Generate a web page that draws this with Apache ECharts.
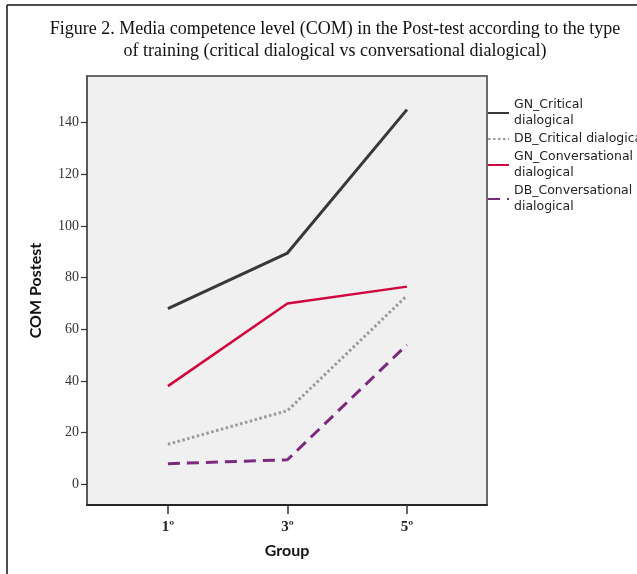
<!DOCTYPE html>
<html>
<head>
<meta charset="utf-8">
<script src="https://cdn.jsdelivr.net/npm/echarts@6/dist/echarts.min.js"></script>
<style>html,body{margin:0;padding:0;background:#fff}#c{width:637px;height:574px}</style>
</head>
<body>
<div id="c"></div>
<script>
const categories = ['1º', '3º', '5º'];
const yTicks = [0, 20, 40, 60, 80, 100, 120, 140];
const gnCritical = [68, 89.5, 145];
const dbCritical = [15.5, 28.5, 73];
const gnConversational = [38, 70, 76.5];
const dbConversational = [8, 9.5, 54];
const seriesNames = ['GN_Critical\ndialogical', 'DB_Critical dialogical', 'GN_Conversational\ndialogical', 'DB_Conversational\ndialogical'];

const toPairs = arr => arr.map((v, i) => [i + 1, v]);
const chart = echarts.init(document.getElementById('c'), null, {renderer: 'canvas'});
const option = {
  animation: false,
  backgroundColor: '#ffffff',
  title: {
    text: 'Figure 2. Media competence level (COM) in the Post-test according to the type\nof training (critical dialogical vs conversational dialogical)',
    left: 330, top: 13, textAlign: 'center',
    textStyle: {fontFamily: 'Liberation Serif', fontWeight: 'normal', fontSize: 18, lineHeight: 22, color: '#111'}
  },
  grid: {left: 87, right: 150, top: 76, bottom: 69, show: true, backgroundColor: '#f0f0f0', borderColor: '#6a6a6a', borderWidth: 2},
  legend: {
    orient: 'vertical', left: 487, top: 97, padding: 0, itemWidth: 21, itemHeight: 14, itemGap: 2,
    itemStyle: {opacity: 0},
    textStyle: {fontFamily: 'DejaVu Sans', fontSize: 12.5, lineHeight: 16, color: '#222'},
    data: seriesNames
  },
  xAxis: {
    type: 'value', min: 0.323, max: 3.67,
    name: 'Group', nameLocation: 'middle', nameGap: 38,
    nameTextStyle: {fontFamily: 'Lato', fontWeight: 'bold', fontSize: 16, color: '#111'},
    axisLine: {show: true, onZero: false, lineStyle: {color: '#111', width: 1.5}},
    axisTick: {show: true, length: 9, customValues: [1, 2, 3], lineStyle: {color: '#333', width: 1.5}},
    axisLabel: {customValues: [1, 2, 3], margin: 15, formatter: v => categories[Math.round(v) - 1] || '',
      fontFamily: 'Liberation Serif', fontWeight: 'bold', fontSize: 15, color: '#222'},
    splitLine: {show: false}
  },
  yAxis: {
    type: 'value', min: -8, max: 158,
    name: 'COM Postest', nameLocation: 'middle', nameGap: 43,
    nameTextStyle: {fontFamily: 'Lato', fontWeight: 'bold', fontSize: 16, color: '#111'},
    axisLine: {show: true, onZero: false, lineStyle: {color: '#555', width: 1.5}},
    axisTick: {show: true, length: 6, customValues: yTicks, lineStyle: {color: '#333', width: 1.2}},
    axisLabel: {customValues: yTicks, margin: 8, fontFamily: 'Liberation Serif', fontSize: 14, color: '#333'},
    splitLine: {show: false}
  },
  series: [
    {name: seriesNames[0], type: 'line', symbol: 'none', data: toPairs(gnCritical),
      lineStyle: {color: '#383838', width: 3}, itemStyle: {color: '#383838'}},
    {name: seriesNames[1], type: 'line', symbol: 'none', data: toPairs(dbCritical),
      lineStyle: {color: '#9a9a9a', width: 3, type: [2.5, 2.5]}, itemStyle: {color: '#9a9a9a'}},
    {name: seriesNames[2], type: 'line', symbol: 'none', data: toPairs(gnConversational),
      lineStyle: {color: '#d0063c', width: 2.5}, itemStyle: {color: '#d0063c'}},
    {name: seriesNames[3], type: 'line', symbol: 'none', data: toPairs(dbConversational),
      lineStyle: {color: '#7b2a7e', width: 3, type: [12, 7]}, itemStyle: {color: '#7b2a7e'}}
  ],
  graphic: [
    {type: 'line', shape: {x1: 7, y1: 5, x2: 637, y2: 5}, style: {stroke: '#111', lineWidth: 1.5}, silent: true},
    {type: 'line', shape: {x1: 7, y1: 5, x2: 7, y2: 574}, style: {stroke: '#111', lineWidth: 1.5}, silent: true}
  ]
};
chart.setOption(option);
</script>
</body>
</html>
